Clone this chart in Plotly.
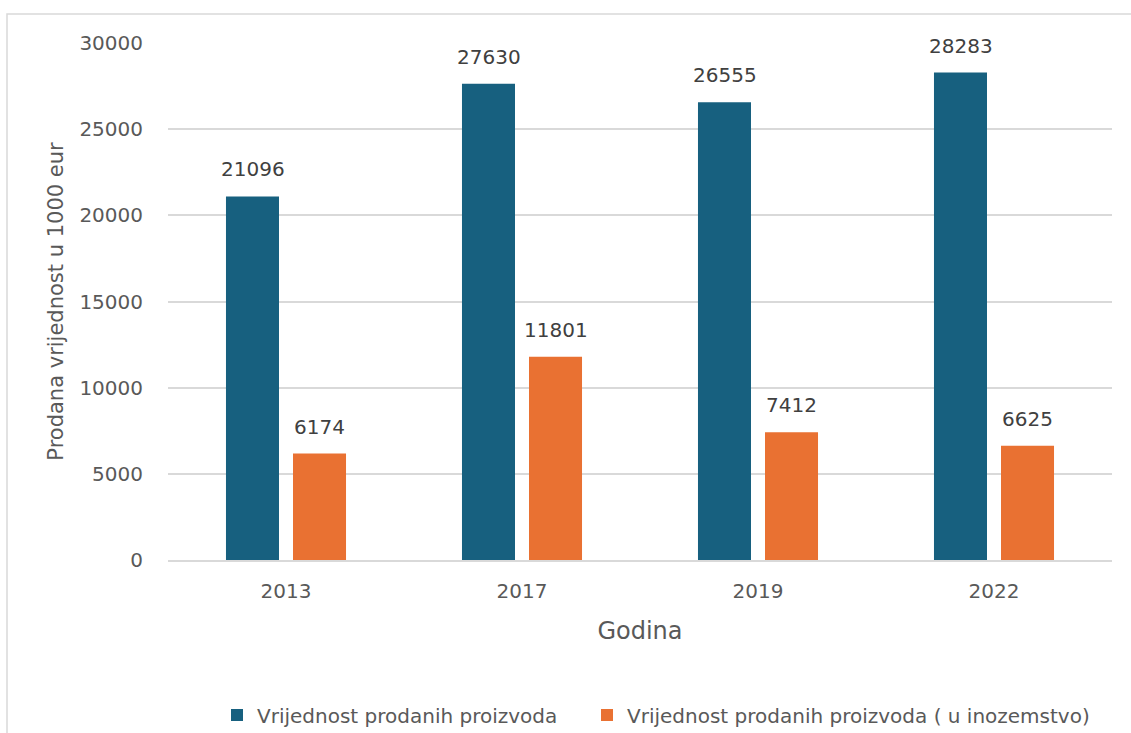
import plotly.graph_objects as go

years = ["2013", "2017", "2019", "2022"]
total_sold = [21096, 27630, 26555, 28283]
sold_abroad = [6174, 11801, 7412, 6625]
series_names = ["Vrijednost prodanih proizvoda", "Vrijednost prodanih proizvoda ( u inozemstvo)"]
y_ticks = [0, 5000, 10000, 15000, 20000, 25000, 30000]

BLUE = "#17607f"
ORANGE = "#e97132"
TXT = "#595959"
GRID = "#d9d9d9"
FONT = "DejaVu Sans"

W, H = 1131, 733
L, R, T, B = 168, 19, 43, 173
pw, ph = W - L - R, H - T - B

fig = go.Figure()
fig.add_trace(go.Bar(x=years, y=total_sold, name=series_names[0], marker_color=BLUE,
                     marker_line_width=0, legend="legend"))
fig.add_trace(go.Bar(x=years, y=sold_abroad, name=series_names[1], marker_color=ORANGE,
                     marker_line_width=0, legend="legend2"))

# value labels above bars (category index positions on the category axis)
for vals, sh in ((total_sold, -33.5), (sold_abroad, 33.5)):
    for i, v in enumerate(vals):
        fig.add_annotation(x=i, y=v, text=str(v), showarrow=False, xshift=sh,
                           yanchor="bottom", yshift=13,
                           font=dict(family=FONT, size=20, color="#404040"))

# outer chart border
fig.add_shape(type="rect", xref="paper", yref="paper",
              x0=(7 - L) / pw, x1=(W + 20 - L) / pw,
              y0=(H - B - (H + 20)) / ph, y1=1 + (T - 14) / ph,
              line=dict(color=GRID, width=1.5), fillcolor="rgba(0,0,0,0)", layer="below")

leg_common = dict(orientation="h", xanchor="left", y=(H - B - 715) / ph, yanchor="middle",
                  font=dict(family=FONT, size=20, color=TXT), itemwidth=30,
                  bgcolor="rgba(0,0,0,0)")

fig.update_layout(
    width=W, height=H,
    margin=dict(l=L, r=R, t=T, b=B, autoexpand=False),
    plot_bgcolor="white", paper_bgcolor="white",
    barmode="group", bargap=0.432, bargroupgap=0.209,
    font=dict(family=FONT, color=TXT, size=20),
    showlegend=True,
    legend=dict(x=(217 - L) / pw, **leg_common),
    legend2=dict(x=(587 - L) / pw, **leg_common),
    xaxis=dict(type="category", range=[-0.5, 3.5], showgrid=False, showline=True,
               linecolor=GRID, linewidth=1.5,
               ticks="outside", ticklen=12, tickcolor="rgba(0,0,0,0)",
               tickfont=dict(size=20, color=TXT),
               title=dict(text="Godina", font=dict(size=24, color=TXT), standoff=20)),
    yaxis=dict(range=[0, 30000], tickvals=y_ticks, ticktext=[str(v) for v in y_ticks],
               showgrid=True, gridcolor=GRID, gridwidth=1.5, zeroline=False,
               ticks="outside", ticklen=20, tickcolor="rgba(0,0,0,0)",
               tickfont=dict(size=20, color=TXT),
               title=dict(text="Prodana vrijednost u 1000 eur",
                          font=dict(size=21, color=TXT), standoff=10)),
)

fig.write_html("out.html", config={"displayModeBar": False},
               post_script="document.body.style.margin='0';")
